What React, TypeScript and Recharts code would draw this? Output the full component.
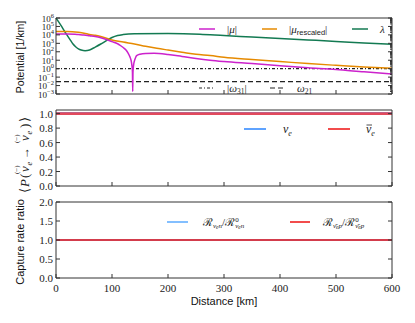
import { Line, LineChart, ReferenceLine, XAxis, YAxis } from 'recharts'

// top panel: potentials [1/km] vs distance [km]
const muDist = [0, 20, 40, 50, 60, 70, 80, 90, 100, 110, 114, 120, 125, 129, 132, 134, 135.5, 136.5, 137, 137.5, 138.5, 140, 142, 144, 150, 160, 175, 200, 225, 250, 275, 300, 350, 400, 450, 500, 550, 600]
const muVals = [1.3e4, 1.3e4, 1.1e4, 1e4, 7.9e3, 6.3e3, 4.5e3, 2.8e3, 1.6e3, 890, 630, 320, 160, 63, 25, 10, 2.5, 0.4, 0.002, 0.4, 2.5, 8, 20, 35, 52, 63, 66, 48, 28, 16, 10, 7, 4, 2.2, 1.3, 0.8, 0.42, 0.23]

const muRescDist = [0, 20, 40, 50, 60, 70, 80, 90, 100, 120, 140, 160, 180, 200, 225, 250, 275, 300, 350, 400, 450, 500, 550, 600]
const muRescVals = [2.5e4, 2.5e4, 2.0e4, 1.6e4, 1.1e4, 8.9e3, 6.3e3, 4e3, 2.5e3, 1.4e3, 830, 450, 260, 160, 89, 50, 36, 22, 12, 7, 4, 2.5, 1.6, 1.1]

const lambdaDist = [0, 5, 10, 15, 20, 25, 30, 35, 40, 45, 52, 60, 70, 80, 90, 100, 110, 120, 140, 200, 257, 300, 350, 400, 450, 500, 550, 600]
const lambdaVals = [1e6, 3.2e5, 1e5, 2.9e4, 8.9e3, 2.8e3, 890, 400, 220, 160, 135, 165, 360, 830, 2.1e3, 4.9e3, 8.5e3, 1.1e4, 1.35e4, 1.45e4, 1.2e4, 8.3e3, 5.6e3, 3.7e3, 2.5e3, 1.7e3, 1.1e3, 760]

const omega31 = 1
const omega21 = 0.03

// middle panel: survival probability
const probDist = [0, 100, 200, 300, 400, 500, 600]
const probNu = [1, 1, 1, 1, 1, 1, 1]
const probNuBar = [1, 1, 1, 1, 1, 1, 1]

// bottom panel: capture rate ratio
const rateDist = [0, 100, 200, 300, 400, 500, 600]
const rateNu = [1, 1, 1, 1, 1, 1, 1]
const rateNuBar = [1, 1, 1, 1, 1, 1, 1]

const xTicks = [0, 100, 200, 300, 400, 500, 600]
const logExps = [-3, -2, -1, 0, 1, 2, 3, 4, 5, 6]
const logTicks = logExps.map((e) => Math.pow(10, e))
const logMinor = logTicks.slice(0, -1).flatMap((t) => [2, 3, 4, 5, 6, 7, 8, 9].map((m) => m * t))
const probTicks = [0, 0.2, 0.4, 0.6, 0.8, 1.0]
const rateTicks = [0, 0.5, 1.0, 1.5, 2.0]

const toPts = (xs: number[], ys: number[]) => xs.map((x, i) => ({ x, y: ys[i] }))

const FRAME = '#333'
const SERIF = '"Liberation Serif", "DejaVu Serif", serif'
const SANS = '"Liberation Sans", Arial, sans-serif'
const MAGENTA = '#cc22cc'
const ORANGE = '#e68a00'
const GREEN = '#137a52'
const BLUE = '#2a85ff'
const LIGHTBLUE = '#5aaaff'
const RED = '#ee1111'

const W = 415

function BottomTick(p: any) {
  const { x, y, payload, label } = p
  return (
    <g>
      <line x1={x} x2={x} y1={y} y2={y - 4} stroke={FRAME} />
      {label && (
        <text x={x} y={y + 14} textAnchor="middle" fontFamily={SERIF} fontSize={11} fill="#222">
          {payload.value}
        </text>
      )}
    </g>
  )
}

function TopTick(p: any) {
  const { x, y } = p
  return <line x1={x} x2={x} y1={y} y2={y + 4} stroke={FRAME} />
}

function RightTick(p: any) {
  const { x, y, payload, major } = p
  const isMajor = major ? major.includes(payload.value) : true
  return <line x1={x} x2={x - (isMajor ? 4 : 2)} y1={y} y2={y} stroke={FRAME} />
}

function LeftTick(p: any) {
  const { x, y, payload, digits } = p
  return (
    <g>
      <line x1={x} x2={x + 4} y1={y} y2={y} stroke={FRAME} />
      <text x={x - 3} y={y + 4} textAnchor="end" fontFamily={SERIF} fontSize={11} fill="#222">
        {payload.value.toFixed(digits)}
      </text>
    </g>
  )
}

function LogTick(p: any) {
  const { x, y, payload } = p
  const e = Math.round(Math.log10(payload.value))
  return (
    <g>
      <line x1={x} x2={x + 4} y1={y} y2={y} stroke={FRAME} />
      <text x={x - 2} y={y + 3.5} textAnchor="end" fontFamily={SERIF} fontSize={9} fill="#222">
        10<tspan dy={-4} fontSize={6.5}>{e < 0 ? '\u2212' + -e : e}</tspan>
      </text>
    </g>
  )
}

const frameAxes = (yProps: any, leftTick: any, rightTicks: number[], rightTick: any, bottomLabel: boolean, topH: number, bottomH: number) => [
  <XAxis key="xb" xAxisId="b" dataKey="x" type="number" domain={[0, 600]} ticks={xTicks} interval={0}
    height={bottomH} tickSize={0} tickMargin={0} tickLine={false} axisLine={{ stroke: FRAME }}
    tick={(p: any) => <BottomTick {...p} label={bottomLabel} />} />,
  <XAxis key="xt" xAxisId="t" orientation="top" dataKey="x" type="number" domain={[0, 600]} ticks={xTicks} interval={0}
    height={topH} tickSize={0} tickMargin={0} tickLine={false} axisLine={{ stroke: FRAME }}
    tick={(p: any) => <TopTick {...p} />} />,
  <YAxis key="yl" yAxisId="l" width={56} tickSize={0} tickMargin={0} tickLine={false} interval={0}
    axisLine={{ stroke: FRAME }} tick={leftTick} {...yProps} />,
  <YAxis key="yr" yAxisId="r" orientation="right" width={23} tickSize={0} tickMargin={0} tickLine={false} interval={0}
    axisLine={{ stroke: FRAME }} tick={rightTick} {...yProps} ticks={rightTicks} />,
]

const noMargin = { top: 0, right: 0, bottom: 0, left: 0 }

function PotentialPanel() {
  return (
    <LineChart width={W} height={100} margin={noMargin}>
      {frameAxes(
        { type: 'number', scale: 'log', domain: [1e-3, 1e6], allowDataOverflow: true, ticks: logTicks },
        (p: any) => <LogTick {...p} />,
        [...logTicks, ...logMinor],
        (p: any) => <RightTick {...p} major={logTicks} />,
        false, 18, 6,
      )}
      <ReferenceLine xAxisId="b" yAxisId="l" y={omega31} stroke="#222" strokeWidth={1.2} strokeDasharray="3 2 1 2" />
      <ReferenceLine xAxisId="b" yAxisId="l" y={omega21} stroke="#222" strokeWidth={1.2} strokeDasharray="5 3" />
      <Line xAxisId="b" yAxisId="l" data={toPts(lambdaDist, lambdaVals)} dataKey="y" type="monotone" stroke={GREEN} strokeWidth={1.5} dot={false} isAnimationActive={false} />
      <Line xAxisId="b" yAxisId="l" data={toPts(muRescDist, muRescVals)} dataKey="y" type="monotone" stroke={ORANGE} strokeWidth={1.5} dot={false} isAnimationActive={false} />
      <Line xAxisId="b" yAxisId="l" data={toPts(muDist, muVals)} dataKey="y" type="monotone" stroke={MAGENTA} strokeWidth={1.5} dot={false} isAnimationActive={false} />
      <text transform="translate(24,57) rotate(-90)" textAnchor="middle" fontFamily={SANS} fontSize={10.5} fill="#111">
        Potential [1/km]
      </text>
      <g fontFamily={SERIF} fontSize={11} fill="#222">
        <line x1={199} x2={215} y1={29} y2={29} stroke={MAGENTA} strokeWidth={1.5} />
        <text x={227} y={33}>|<tspan fontStyle="italic">μ</tspan>|</text>
        <line x1={262} x2={277} y1={29} y2={29} stroke={ORANGE} strokeWidth={1.5} />
        <text x={289} y={33}>|<tspan fontStyle="italic">μ</tspan><tspan fontFamily={SANS} fontSize={7.5} dy={2}>rescaled</tspan><tspan dy={-2}>|</tspan></text>
        <line x1={352} x2={368} y1={29} y2={29} stroke={GREEN} strokeWidth={1.5} />
        <text x={380} y={33} fontStyle="italic">λ</text>
        <line x1={199} x2={215} y1={88} y2={88} stroke="#222" strokeWidth={1.2} strokeDasharray="3 2 1 2" />
        <text x={227} y={92}>|<tspan fontStyle="italic">ω</tspan><tspan fontSize={7.5} dy={2}>31</tspan><tspan dy={-2}>|</tspan></text>
        <line x1={270} x2={284} y1={88} y2={88} stroke="#222" strokeWidth={1.2} strokeDasharray="5 3" />
        <text x={297} y={92}><tspan fontStyle="italic">ω</tspan><tspan fontSize={7.5} dy={2}>21</tspan></text>
      </g>
    </LineChart>
  )
}

function ProbabilityPanel() {
  return (
    <LineChart width={W} height={110} margin={noMargin}>
      {frameAxes(
        { type: 'number', domain: [0, 1.05], allowDataOverflow: true, ticks: probTicks },
        (p: any) => <LeftTick {...p} digits={1} />,
        probTicks,
        (p: any) => <RightTick {...p} />,
        false, 15, 19,
      )}
      <Line xAxisId="b" yAxisId="l" data={toPts(probDist, probNu)} dataKey="y" stroke={BLUE} strokeWidth={2.5} dot={false} isAnimationActive={false} />
      <Line xAxisId="b" yAxisId="l" data={toPts(probDist, probNuBar)} dataKey="y" stroke="#e24a5c" strokeWidth={2.8} dot={false} isAnimationActive={false} />
      <g transform="translate(29,55) rotate(-90)" fontFamily={SERIF} fontSize={13} fill="#222">
        <text x={-43} y={0}>⟨</text>
        <text x={-37} y={0} fontStyle="italic">P</text>
        <text x={-28} y={0}>(</text>
        <text x={-22} y={0} fontStyle="italic">ν</text>
        <text x={-15.5} y={3} fontSize={8.5} fontStyle="italic">e</text>
        <text x={-9} y={0} fontSize={12}>→</text>
        <text x={9} y={0} fontStyle="italic">ν</text>
        <text x={15.5} y={3} fontSize={8.5} fontStyle="italic">e</text>
        <text x={22} y={0}>)</text>
        <text x={28} y={0}>⟩</text>
        <text x={-24} y={-10} fontSize={7}>(−)</text>
        <text x={7} y={-10} fontSize={7}>(−)</text>
      </g>
      <g fontFamily={SERIF} fontSize={12} fill="#222" fontStyle="italic">
        <line x1={244} x2={266} y1={34} y2={34} stroke={BLUE} strokeWidth={1.5} />
        <text x={283} y={38}>ν<tspan fontSize={8} dy={3}>e</tspan></text>
        <line x1={328} x2={350} y1={34} y2={34} stroke={RED} strokeWidth={1.5} />
        <text x={366} y={38}>ν<tspan fontSize={8} dy={3}>e</tspan></text>
        <line x1={366.5} x2={372} y1={30} y2={30} stroke="#222" strokeWidth={0.8} />
      </g>
    </LineChart>
  )
}

function RatePanel() {
  return (
    <LineChart width={W} height={133} margin={noMargin}>
      {frameAxes(
        { type: 'number', domain: [0, 2], allowDataOverflow: true, ticks: rateTicks },
        (p: any) => <LeftTick {...p} digits={1} />,
        rateTicks,
        (p: any) => <RightTick {...p} />,
        true, 12, 45,
      )}
      <Line xAxisId="b" yAxisId="l" data={toPts(rateDist, rateNu)} dataKey="y" stroke={LIGHTBLUE} strokeWidth={1.5} dot={false} isAnimationActive={false} />
      <Line xAxisId="b" yAxisId="l" data={toPts(rateDist, rateNuBar)} dataKey="y" stroke={RED} strokeWidth={1.5} dot={false} isAnimationActive={false} />
      <text transform="translate(24,52) rotate(-90)" textAnchor="middle" fontFamily={SANS} fontSize={11} fill="#111">
        Capture rate ratio
      </text>
      <text x={224} y={115} textAnchor="middle" fontFamily={SANS} fontSize={11} fill="#111">
        Distance [km]
      </text>
      <g fontFamily={SERIF} fontSize={11} fill="#222">
        <line x1={167} x2={188} y1={32} y2={32} stroke={LIGHTBLUE} strokeWidth={1.5} />
        <text x={203} y={36}>ℛ<tspan fontSize={7} dy={2} fontStyle="italic">ν</tspan><tspan fontSize={5.5} dy={1} fontStyle="italic">e</tspan><tspan fontSize={7} dy={-1} fontStyle="italic">n</tspan><tspan dy={-2}>/ℛ</tspan><tspan fontSize={7} dy={-4}>0</tspan><tspan fontSize={7} dx={-3.5} dy={6} fontStyle="italic">ν</tspan><tspan fontSize={5.5} dy={1} fontStyle="italic">e</tspan><tspan fontSize={7} dy={-1} fontStyle="italic">n</tspan></text>
        <line x1={290} x2={310} y1={32} y2={32} stroke={RED} strokeWidth={1.5} />
        <text x={323} y={36}>ℛ<tspan fontSize={7} dy={2} fontStyle="italic">ν̄</tspan><tspan fontSize={5.5} dy={1} fontStyle="italic">e</tspan><tspan fontSize={7} dy={-1} fontStyle="italic">p</tspan><tspan dy={-2}>/ℛ</tspan><tspan fontSize={7} dy={-4}>0</tspan><tspan fontSize={7} dx={-3.5} dy={6} fontStyle="italic">ν̄</tspan><tspan fontSize={5.5} dy={1} fontStyle="italic">e</tspan><tspan fontSize={7} dy={-1} fontStyle="italic">p</tspan></text>
      </g>
    </LineChart>
  )
}

export default function App() {
  return (
    <div style={{ position: 'absolute', left: 0, top: 0, width: W, height: 323, background: '#fff' }}>
      <div style={{ position: 'absolute', left: 0, top: 0 }}>
        <PotentialPanel />
      </div>
      <div style={{ position: 'absolute', left: 0, top: 95 }}>
        <ProbabilityPanel />
      </div>
      <div style={{ position: 'absolute', left: 0, top: 190 }}>
        <RatePanel />
      </div>
    </div>
  )
}
